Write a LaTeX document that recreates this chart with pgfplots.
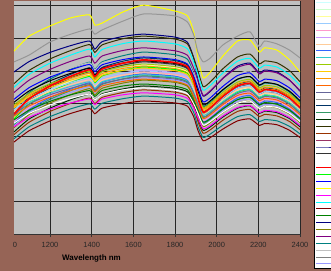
\documentclass[border=0pt]{standalone}
\usepackage{pgfplots}
\pgfplotsset{compat=1.18}
\usepackage{fontspec}
\setmainfont{Liberation Sans}
\definecolor{bgbrown}{RGB}{150,100,86}
\definecolor{plotgray}{HTML}{C0C0C0}
\definecolor{k1}{HTML}{000080}
\definecolor{k2}{HTML}{333300}
\definecolor{k3}{HTML}{00FFFF}
\definecolor{k4}{HTML}{800080}
\definecolor{k5}{HTML}{008080}
\definecolor{k6}{HTML}{C0C0C0}
\definecolor{k7}{HTML}{0000FF}
\definecolor{k8}{HTML}{003366}
\definecolor{k9}{HTML}{FF0000}
\definecolor{k10}{HTML}{000000}
\definecolor{k11}{HTML}{333333}
\definecolor{k12}{HTML}{99CC00}
\definecolor{k13}{HTML}{FFFF99}
\definecolor{k14}{HTML}{FF9900}
\definecolor{k15}{HTML}{00FF00}
\definecolor{k16}{HTML}{FFCC00}
\definecolor{k17}{HTML}{CC99FF}
\definecolor{k18}{HTML}{99CCFF}
\definecolor{k19}{HTML}{FF99CC}
\definecolor{k20}{HTML}{FFCC99}
\definecolor{k21}{HTML}{3366FF}
\definecolor{k22}{HTML}{33CCCC}
\definecolor{k23}{HTML}{339966}
\definecolor{k24}{HTML}{666699}
\definecolor{k25}{HTML}{9999FF}
\definecolor{k26}{HTML}{FF6600}
\definecolor{k27}{HTML}{808000}
\definecolor{k28}{HTML}{008000}
\definecolor{k29}{HTML}{003300}
\definecolor{k30}{HTML}{FFFFFF}
\definecolor{k31}{HTML}{993300}
\definecolor{k32}{HTML}{FF00FF}
\definecolor{k33}{HTML}{008080}
\definecolor{k34}{HTML}{800000}
\definecolor{kyel}{HTML}{FFFF00}
\definecolor{kgry}{HTML}{969696}
\begin{document}
\begin{tikzpicture}
\path[use as bounding box] (0,0) rectangle (331bp,271bp);
\clip (0,0) rectangle (331bp,271bp);
\fill[bgbrown] (0,0) rectangle (331bp,271bp);
\begin{axis}[
  at={(14bp,37bp)}, anchor=south west,
  scale only axis, width=286bp, height=233bp,
  xmin=1027, xmax=2400, ymin=0, ymax=71.47,
  axis background/.style={fill=plotgray},
  axis lines*=left,
  y axis line style={draw=none},
  x axis line style={draw=black!80, line width=0.7pt},
  xtick={1200,1400,...,2400},
  ytick={10,20,...,70}, yticklabels={},
  ytick style={draw=none},
  xtick style={draw=black!80, line width=0.7pt},
  tick align=outside, major tick length=3bp,
  xmajorgrids, ymajorgrids,
  grid style={black!85, line width=0.7pt},
  /pgf/number format/assume math mode=true,
  /pgf/number format/1000 sep={},
  xticklabel style={font=\fontsize{7.5}{9}\selectfont, text=black!85, yshift=-2bp},
  xlabel={Wavelength nm},
  xlabel style={font=\fontsize{8}{9}\selectfont\bfseries, at={(axis description cs:0.271,-0.107)}, anchor=center},
  legend style={at={(axis description cs:1.0472,1.0129)}, anchor=north west,
    draw=black, line width=0.6pt, fill=white, inner xsep=2bp, inner ysep=1bp,
    row sep=0pt,
    nodes={inner sep=0pt, text height=4.4bp, text depth=2.47bp, text width=20bp, font=\fontsize{5.5}{6}\selectfont}},
  legend cell align=left,
  sp/.style={line width=1pt, smooth, tension=0.35, forget plot},
  li/.style={line width=0.8pt},
]
\addplot[sp, color=kyel] coordinates {(1027,56.1)(1100,60.7)(1200,63.8)(1300,66.3)(1390,67.2)(1415,64.1)(1450,64.7)(1550,68.1)(1650,70.2)(1800,68.4)(1860,66.9)(1890,62.0)(1910,54.0)(1935,47.9)(1970,49.7)(2030,54.6)(2100,59.2)(2160,59.5)(2205,55.8)(2230,57.1)(2290,56.4)(2350,53.4)(2400,49.7)};
\addplot[sp, color=kgry] coordinates {(1027,52.8)(1100,54.9)(1200,58.9)(1300,61.3)(1390,62.9)(1415,61.3)(1450,62.6)(1550,65.3)(1650,67.5)(1800,66.9)(1860,65.0)(1890,61.0)(1910,55.8)(1935,52.8)(1970,54.0)(2030,58.0)(2100,60.7)(2160,62.0)(2205,57.4)(2230,59.2)(2290,58.3)(2350,56.4)(2400,54.0)};
\addplot[sp, color=k1] coordinates {(1027,49.7)(1100,52.9)(1200,55.7)(1300,57.8)(1390,59.2)(1415,56.7)(1450,59.0)(1550,60.6)(1650,61.3)(1800,60.4)(1860,58.8)(1890,53.9)(1910,47.2)(1935,42.3)(1970,43.8)(2030,47.8)(2100,51.5)(2160,52.4)(2205,49.3)(2230,50.3)(2290,49.7)(2350,47.2)(2400,43.8)};
\addplot[sp, color=k2] coordinates {(1027,46.1)(1100,50.2)(1200,53.7)(1300,56.3)(1390,58.1)(1415,55.7)(1450,58.0)(1550,59.9)(1650,60.7)(1800,59.8)(1860,58.3)(1890,54.0)(1910,50.1)(1935,45.2)(1970,46.7)(2030,50.7)(2100,54.3)(2160,55.2)(2205,52.2)(2230,53.1)(2290,52.5)(2350,50.1)(2400,46.7)};
\addplot[sp, color=k3] coordinates {(1027,45.0)(1100,49.0)(1200,52.4)(1300,54.9)(1390,56.7)(1415,54.3)(1450,56.6)(1550,58.4)(1650,59.2)(1800,58.3)(1860,56.8)(1890,52.7)(1910,48.8)(1935,44.1)(1970,45.6)(2030,49.4)(2100,53.0)(2160,53.9)(2205,50.9)(2230,51.8)(2290,51.2)(2350,48.8)(2400,45.6)};
\addplot[sp, color=k4] coordinates {(1027,43.4)(1100,47.2)(1200,50.5)(1300,53.0)(1390,54.6)(1415,52.4)(1450,54.6)(1550,56.3)(1650,57.1)(1800,56.2)(1860,54.8)(1890,50.8)(1910,47.1)(1935,42.5)(1970,44.0)(2030,47.7)(2100,51.1)(2160,52.0)(2205,49.1)(2230,50.0)(2290,49.4)(2350,47.1)(2400,44.0)};
\addplot[sp, color=k5] coordinates {(1027,38.5)(1100,43.4)(1200,47.5)(1300,50.6)(1390,52.7)(1415,50.5)(1450,52.8)(1550,54.7)(1650,55.8)(1800,55.0)(1860,53.6)(1890,49.1)(1910,43.5)(1935,39.1)(1970,40.5)(2030,44.1)(2100,47.4)(2160,48.3)(2205,45.5)(2230,46.3)(2290,45.8)(2350,43.5)(2400,40.5)};
\addplot[sp, color=k6] coordinates {(1027,41.7)(1100,45.4)(1200,48.6)(1300,50.9)(1390,52.5)(1415,50.3)(1450,52.5)(1550,54.1)(1650,54.9)(1800,54.1)(1860,52.7)(1890,48.9)(1910,45.3)(1935,40.9)(1970,42.3)(2030,45.8)(2100,49.1)(2160,50.0)(2205,47.2)(2230,48.0)(2290,47.5)(2350,45.3)(2400,42.3)};
\addplot[sp, color=k7] coordinates {(1027,41.3)(1100,44.9)(1200,48.1)(1300,50.4)(1390,52.0)(1415,49.8)(1450,51.9)(1550,53.5)(1650,54.3)(1800,53.5)(1860,52.1)(1890,48.3)(1910,44.8)(1935,40.5)(1970,41.8)(2030,45.3)(2100,48.6)(2160,49.4)(2205,46.7)(2230,47.5)(2290,47.0)(2350,44.8)(2400,41.8)};
\addplot[sp, color=k8] coordinates {(1027,37.3)(1100,42.0)(1200,46.0)(1300,49.0)(1390,51.0)(1415,48.9)(1450,51.1)(1550,53.0)(1650,54.0)(1800,53.2)(1860,51.8)(1890,47.5)(1910,42.1)(1935,37.8)(1970,39.2)(2030,42.7)(2100,45.9)(2160,46.7)(2205,44.0)(2230,44.8)(2290,44.3)(2350,42.1)(2400,39.2)};
\addplot[sp, color=k10] coordinates {(1027,40.4)(1100,43.9)(1200,47.0)(1300,49.3)(1390,50.8)(1415,48.7)(1450,50.8)(1550,52.4)(1650,53.1)(1800,52.3)(1860,51.0)(1890,47.3)(1910,43.8)(1935,39.6)(1970,40.9)(2030,44.3)(2100,47.5)(2160,48.3)(2205,45.7)(2230,46.5)(2290,45.9)(2350,43.8)(2400,40.9)};
\addplot[sp, color=k11] coordinates {(1027,36.4)(1100,41.0)(1200,44.9)(1300,47.9)(1390,49.8)(1415,47.8)(1450,50.0)(1550,51.8)(1650,52.8)(1800,52.0)(1860,50.7)(1890,46.5)(1910,41.2)(1935,37.0)(1970,38.3)(2030,41.7)(2100,44.9)(2160,45.7)(2205,43.0)(2230,43.8)(2290,43.3)(2350,41.2)(2400,38.3)};
\addplot[sp, color=k12] coordinates {(1027,39.6)(1100,43.1)(1200,46.1)(1300,48.3)(1390,49.9)(1415,47.8)(1450,49.8)(1550,51.4)(1650,52.1)(1800,51.3)(1860,50.0)(1890,46.4)(1910,43.0)(1935,38.8)(1970,40.1)(2030,43.5)(2100,46.6)(2160,47.4)(2205,44.8)(2230,45.6)(2290,45.1)(2350,43.0)(2400,40.1)};
\addplot[sp, color=k13] coordinates {(1027,35.7)(1100,40.2)(1200,44.1)(1300,47.0)(1390,48.9)(1415,46.9)(1450,49.1)(1550,50.8)(1650,51.8)(1800,51.0)(1860,49.7)(1890,45.6)(1910,40.4)(1935,36.3)(1970,37.6)(2030,40.9)(2100,44.0)(2160,44.8)(2205,42.2)(2230,43.0)(2290,42.5)(2350,40.4)(2400,37.6)};
\addplot[sp, color=k14] coordinates {(1027,39.1)(1100,42.6)(1200,45.6)(1300,47.8)(1390,49.3)(1415,47.2)(1450,49.2)(1550,50.8)(1650,51.5)(1800,50.7)(1860,49.4)(1890,45.8)(1910,42.5)(1935,38.4)(1970,39.7)(2030,43.0)(2100,46.1)(2160,46.9)(2205,44.3)(2230,45.1)(2290,44.5)(2350,42.5)(2400,39.7)};
\addplot[sp, color=k15] coordinates {(1027,35.3)(1100,39.8)(1200,43.6)(1300,46.4)(1390,48.3)(1415,46.3)(1450,48.5)(1550,50.2)(1650,51.2)(1800,50.4)(1860,49.2)(1890,45.1)(1910,39.9)(1935,35.8)(1970,37.1)(2030,40.4)(2100,43.5)(2160,44.3)(2205,41.7)(2230,42.5)(2290,42.0)(2350,39.9)(2400,37.1)};
\addplot[sp, color=k16] coordinates {(1027,38.7)(1100,42.1)(1200,45.0)(1300,47.2)(1390,48.7)(1415,46.7)(1450,48.7)(1550,50.2)(1650,50.9)(1800,50.1)(1860,48.9)(1890,45.3)(1910,42.0)(1935,37.9)(1970,39.2)(2030,42.5)(2100,45.6)(2160,46.3)(2205,43.8)(2230,44.5)(2290,44.0)(2350,42.0)(2400,39.2)};
\addplot[sp, color=k17] coordinates {(1027,34.7)(1100,39.1)(1200,42.8)(1300,45.6)(1390,47.5)(1415,45.5)(1450,47.6)(1550,49.3)(1650,50.3)(1800,49.5)(1860,48.3)(1890,44.3)(1910,39.2)(1935,35.2)(1970,36.5)(2030,39.7)(2100,42.8)(2160,43.5)(2205,41.0)(2230,41.7)(2290,41.2)(2350,39.2)(2400,36.5)};
\addplot[sp, color=k18] coordinates {(1027,38.0)(1100,41.4)(1200,44.3)(1300,46.4)(1390,47.9)(1415,45.9)(1450,47.8)(1550,49.3)(1650,50.0)(1800,49.3)(1860,48.0)(1890,44.5)(1910,41.3)(1935,37.3)(1970,38.5)(2030,41.8)(2100,44.8)(2160,45.5)(2205,43.0)(2230,43.8)(2290,43.3)(2350,41.3)(2400,38.5)};
\addplot[sp, color=k19] coordinates {(1027,34.3)(1100,38.6)(1200,42.3)(1300,45.1)(1390,46.9)(1415,45.0)(1450,47.1)(1550,48.8)(1650,49.7)(1800,49.0)(1860,47.7)(1890,43.7)(1910,38.8)(1935,34.8)(1970,36.0)(2030,39.3)(2100,42.2)(2160,43.0)(2205,40.5)(2230,41.3)(2290,40.8)(2350,38.8)(2400,36.0)};
\addplot[sp, color=k20] coordinates {(1027,37.5)(1100,40.9)(1200,43.7)(1300,45.8)(1390,47.3)(1415,45.3)(1450,47.2)(1550,48.7)(1650,49.4)(1800,48.7)(1860,47.4)(1890,44.0)(1910,40.8)(1935,36.8)(1970,38.0)(2030,41.2)(2100,44.2)(2160,45.0)(2205,42.5)(2230,43.2)(2290,42.7)(2350,40.8)(2400,38.0)};
\addplot[sp, color=k21] coordinates {(1027,33.9)(1100,38.2)(1200,41.8)(1300,44.5)(1390,46.4)(1415,44.4)(1450,46.5)(1550,48.2)(1650,49.1)(1800,48.4)(1860,47.1)(1890,43.2)(1910,38.3)(1935,34.4)(1970,35.6)(2030,38.8)(2100,41.7)(2160,42.5)(2205,40.0)(2230,40.8)(2290,40.3)(2350,38.3)(2400,35.6)};
\addplot[sp, color=k22] coordinates {(1027,37.1)(1100,40.4)(1200,43.2)(1300,45.3)(1390,46.7)(1415,44.7)(1450,46.7)(1550,48.1)(1650,48.8)(1800,48.1)(1860,46.8)(1890,43.4)(1910,40.3)(1935,36.4)(1970,37.6)(2030,40.7)(2100,43.7)(2160,44.4)(2205,42.0)(2230,42.7)(2290,42.2)(2350,40.3)(2400,37.6)};
\addplot[sp, color=k23] coordinates {(1027,33.5)(1100,37.7)(1200,41.3)(1300,44.0)(1390,45.8)(1415,43.9)(1450,45.9)(1550,47.6)(1650,48.5)(1800,47.8)(1860,46.6)(1890,42.7)(1910,37.8)(1935,34.0)(1970,35.2)(2030,38.3)(2100,41.2)(2160,42.0)(2205,39.5)(2230,40.3)(2290,39.8)(2350,37.8)(2400,35.2)};
\addplot[sp, color=k24] coordinates {(1027,36.6)(1100,39.9)(1200,42.7)(1300,44.7)(1390,46.1)(1415,44.2)(1450,46.1)(1550,47.5)(1650,48.2)(1800,47.5)(1860,46.3)(1890,42.9)(1910,39.8)(1935,35.9)(1970,37.1)(2030,40.2)(2100,43.1)(2160,43.9)(2205,41.5)(2230,42.2)(2290,41.7)(2350,39.8)(2400,37.1)};
\addplot[sp, color=k25] coordinates {(1027,33.1)(1100,37.2)(1200,40.8)(1300,43.4)(1390,45.2)(1415,43.3)(1450,45.4)(1550,47.0)(1650,47.9)(1800,47.2)(1860,46.0)(1890,42.2)(1910,37.4)(1935,33.5)(1970,34.7)(2030,37.8)(2100,40.7)(2160,41.4)(2205,39.0)(2230,39.8)(2290,39.3)(2350,37.4)(2400,34.7)};
\addplot[sp, color=k26] coordinates {(1027,36.1)(1100,39.3)(1200,42.0)(1300,44.1)(1390,45.5)(1415,43.6)(1450,45.4)(1550,46.8)(1650,47.5)(1800,46.8)(1860,45.6)(1890,42.3)(1910,39.2)(1935,35.4)(1970,36.6)(2030,39.7)(2100,42.5)(2160,43.2)(2205,40.9)(2230,41.6)(2290,41.1)(2350,39.2)(2400,36.6)};
\addplot[sp, color=k27] coordinates {(1027,32.6)(1100,36.7)(1200,40.2)(1300,42.8)(1390,44.6)(1415,42.7)(1450,44.7)(1550,46.3)(1650,47.2)(1800,46.5)(1860,45.3)(1890,41.5)(1910,36.8)(1935,33.0)(1970,34.2)(2030,37.3)(2100,40.1)(2160,40.8)(2205,38.5)(2230,39.2)(2290,38.7)(2350,36.8)(2400,34.2)};
\addplot[sp, color=k28] coordinates {(1027,35.0)(1100,38.0)(1200,40.7)(1300,42.7)(1390,44.0)(1415,42.2)(1450,44.0)(1550,45.4)(1650,46.0)(1800,45.3)(1860,44.2)(1890,40.9)(1910,38.0)(1935,34.3)(1970,35.4)(2030,38.4)(2100,41.2)(2160,41.9)(2205,39.6)(2230,40.3)(2290,39.8)(2350,38.0)(2400,35.4)};
\addplot[sp, color=k29] coordinates {(1027,31.3)(1100,35.3)(1200,38.6)(1300,41.2)(1390,42.9)(1415,41.1)(1450,43.0)(1550,44.5)(1650,45.4)(1800,44.7)(1860,43.6)(1890,40.0)(1910,35.4)(1935,31.8)(1970,32.9)(2030,35.9)(2100,38.6)(2160,39.3)(2205,37.0)(2230,37.7)(2290,37.2)(2350,35.4)(2400,32.9)};
\addplot[sp, color=k30] coordinates {(1027,34.0)(1100,37.0)(1200,39.6)(1300,41.6)(1390,42.9)(1415,41.1)(1450,42.8)(1550,44.2)(1650,44.8)(1800,44.1)(1860,43.0)(1890,39.9)(1910,37.0)(1935,33.4)(1970,34.5)(2030,37.4)(2100,40.1)(2160,40.8)(2205,38.5)(2230,39.2)(2290,38.8)(2350,37.0)(2400,34.5)};
\addplot[sp, color=k31] coordinates {(1027,30.5)(1100,34.3)(1200,37.6)(1300,40.1)(1390,41.7)(1415,40.0)(1450,41.9)(1550,43.4)(1650,44.2)(1800,43.5)(1860,42.4)(1890,38.9)(1910,34.5)(1935,30.9)(1970,32.0)(2030,34.9)(2100,37.6)(2160,38.2)(2205,36.0)(2230,36.7)(2290,36.2)(2350,34.5)(2400,32.0)};
\addplot[sp, color=k32] coordinates {(1027,32.9)(1100,35.8)(1200,38.3)(1300,40.2)(1390,41.4)(1415,39.7)(1450,41.4)(1550,42.7)(1650,43.3)(1800,42.7)(1860,41.6)(1890,38.5)(1910,35.7)(1935,32.3)(1970,33.3)(2030,36.2)(2100,38.8)(2160,39.4)(2205,37.2)(2230,37.9)(2290,37.5)(2350,35.7)(2400,33.3)};
\addplot[sp, color=k33] coordinates {(1027,29.2)(1100,32.9)(1200,36.0)(1300,38.4)(1390,39.9)(1415,38.3)(1450,40.1)(1550,41.5)(1650,42.3)(1800,41.7)(1860,40.6)(1890,37.2)(1910,33.0)(1935,29.6)(1970,30.7)(2030,33.4)(2100,36.0)(2160,36.6)(2205,34.5)(2230,35.1)(2290,34.7)(2350,33.0)(2400,30.7)};
\addplot[sp, color=k34] coordinates {(1027,28.2)(1100,31.7)(1200,34.7)(1300,37.0)(1390,38.5)(1415,36.9)(1450,38.6)(1550,40.0)(1650,40.8)(1800,40.2)(1860,39.2)(1890,35.9)(1910,31.8)(1935,28.6)(1970,29.6)(2030,32.2)(2100,34.7)(2160,35.3)(2205,33.3)(2230,33.9)(2290,33.5)(2350,31.8)(2400,29.6)};
\addplot[sp, color=k9, line width=1.6pt] coordinates {(1027,36.8)(1100,41.5)(1200,45.4)(1300,48.4)(1390,50.4)(1415,48.3)(1450,50.6)(1550,52.4)(1650,53.4)(1800,52.6)(1860,51.3)(1890,47.0)(1910,41.7)(1935,37.4)(1970,38.7)(2030,42.2)(2100,45.4)(2160,46.2)(2205,43.5)(2230,44.3)(2290,43.8)(2350,41.7)(2400,38.7)};
\addlegendimage{li, color={rgb,255:red,204;green,255;blue,255}}\addlegendentry{}
\addlegendimage{li, color={rgb,255:red,204;green,255;blue,204}}\addlegendentry{}
\addlegendimage{li, color={rgb,255:red,255;green,255;blue,153}}\addlegendentry{}
\addlegendimage{li, color={rgb,255:red,153;green,204;blue,255}}\addlegendentry{}
\addlegendimage{li, color={rgb,255:red,255;green,153;blue,204}}\addlegendentry{}
\addlegendimage{li, color={rgb,255:red,204;green,153;blue,255}}\addlegendentry{}
\addlegendimage{li, color={rgb,255:red,255;green,204;blue,153}}\addlegendentry{}
\addlegendimage{li, color={rgb,255:red,51;green,102;blue,255}}\addlegendentry{}
\addlegendimage{li, color={rgb,255:red,51;green,204;blue,204}}\addlegendentry{}
\addlegendimage{li, color={rgb,255:red,153;green,204;blue,0}}\addlegendentry{}
\addlegendimage{li, color={rgb,255:red,255;green,204;blue,0}}\addlegendentry{}
\addlegendimage{li, color={rgb,255:red,255;green,153;blue,0}}\addlegendentry{}
\addlegendimage{li, color={rgb,255:red,255;green,102;blue,0}}\addlegendentry{}
\addlegendimage{li, color={rgb,255:red,102;green,102;blue,153}}\addlegendentry{}
\addlegendimage{li, color={rgb,255:red,150;green,150;blue,150}}\addlegendentry{}
\addlegendimage{li, color={rgb,255:red,0;green,51;blue,102}}\addlegendentry{}
\addlegendimage{li, color={rgb,255:red,51;green,153;blue,102}}\addlegendentry{}
\addlegendimage{li, color={rgb,255:red,0;green,51;blue,0}}\addlegendentry{}
\addlegendimage{li, color={rgb,255:red,51;green,51;blue,0}}\addlegendentry{}
\addlegendimage{li, color={rgb,255:red,153;green,51;blue,0}}\addlegendentry{}
\addlegendimage{li, color={rgb,255:red,153;green,51;blue,102}}\addlegendentry{}
\addlegendimage{li, color={rgb,255:red,51;green,51;blue,153}}\addlegendentry{}
\addlegendimage{li, color={rgb,255:red,51;green,51;blue,51}}\addlegendentry{}
\addlegendimage{li, color=white}\addlegendentry{}
\addlegendimage{li, color={rgb,255:red,255;green,0;blue,0}}\addlegendentry{}
\addlegendimage{li, color={rgb,255:red,0;green,255;blue,0}}\addlegendentry{}
\addlegendimage{li, color={rgb,255:red,0;green,0;blue,255}}\addlegendentry{}
\addlegendimage{li, color={rgb,255:red,255;green,255;blue,0}}\addlegendentry{}
\addlegendimage{li, color={rgb,255:red,255;green,0;blue,255}}\addlegendentry{}
\addlegendimage{li, color={rgb,255:red,0;green,255;blue,255}}\addlegendentry{}
\addlegendimage{li, color={rgb,255:red,128;green,0;blue,0}}\addlegendentry{}
\addlegendimage{li, color={rgb,255:red,0;green,128;blue,0}}\addlegendentry{}
\addlegendimage{li, color={rgb,255:red,0;green,0;blue,128}}\addlegendentry{}
\addlegendimage{li, color={rgb,255:red,128;green,128;blue,0}}\addlegendentry{}
\addlegendimage{li, color={rgb,255:red,128;green,0;blue,128}}\addlegendentry{}
\addlegendimage{li, color={rgb,255:red,0;green,128;blue,128}}\addlegendentry{}
\addlegendimage{li, color={rgb,255:red,192;green,192;blue,192}}\addlegendentry{}
\addlegendimage{li, color={rgb,255:red,128;green,128;blue,128}}\addlegendentry{}
\addlegendimage{li, color={rgb,255:red,153;green,153;blue,255}}\addlegendentry{}
\end{axis}
\node[font=\fontsize{7.5}{9}\selectfont, text=black!85] at (15bp,26bp) {0};
\end{tikzpicture}
\end{document}
